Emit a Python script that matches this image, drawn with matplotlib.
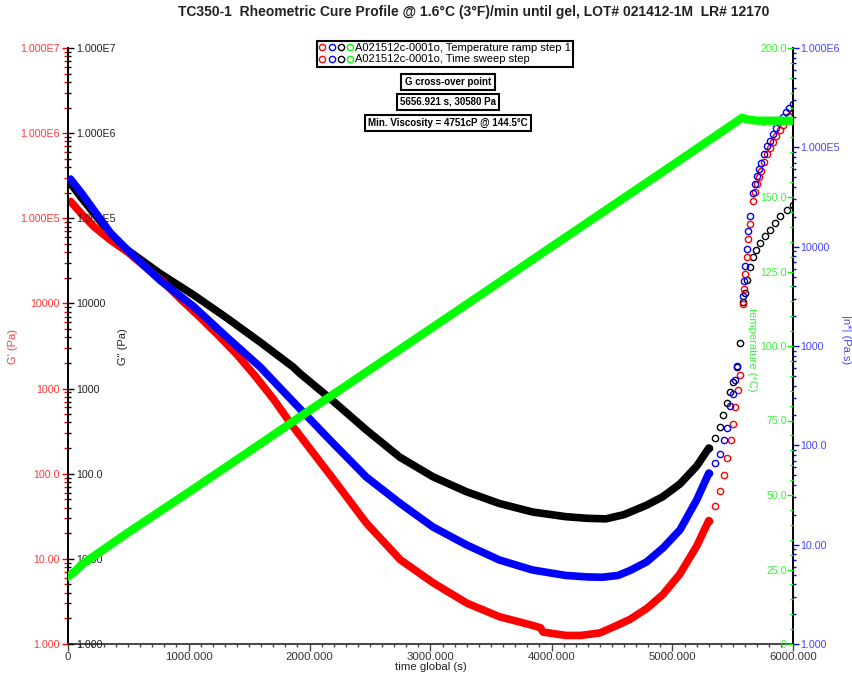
import matplotlib
matplotlib.use('Agg')
import matplotlib.pyplot as plt
from matplotlib.lines import Line2D
from matplotlib.legend_handler import HandlerTuple
from matplotlib.ticker import FixedLocator, LogLocator, MultipleLocator, NullFormatter

plt.rcParams['font.family'] = ['Liberation Sans', 'DejaVu Sans']

# ---- data (time in s) ----
# G' (Pa), before / after the gap at the step change
gp_t1 = [25, 110, 220, 350, 500, 650, 800, 950, 1100, 1250, 1400, 1550, 1700, 1850,
         2000, 2200, 2470, 2750, 3020, 3300, 3570, 3840, 3910, 3930, 4120, 4240, 4400,
         4510, 4650, 4790, 4920, 5060, 5200, 5300, 5350, 5396, 5426, 5454, 5480, 5500,
         5520, 5540, 5555]
gp_v1 = [158000, 115000, 79400, 56200, 39800, 26300, 17400, 10700, 6760, 4170, 2510,
         1410, 759, 380, 200, 85.1, 26.3, 9.77, 5.25, 3.02, 2.09, 1.66, 1.55, 1.38, 1.26,
         1.26, 1.35, 1.58, 1.95, 2.63, 3.80, 6.61, 14.1, 28.2, 41.7, 63.1, 95.5, 151, 251,
         380, 603, 955, 1450]
gp_t2 = [5583, 5591, 5600, 5612, 5624, 5641, 5665, 5682, 5698, 5715, 5731, 5756, 5781,
         5806, 5830, 5855, 5888, 5913, 5938, 5963, 5996]
gp_v2 = [9770, 14800, 22400, 35500, 57500, 85100, 158000, 204000, 251000, 309000,
         363000, 457000, 575000, 676000, 794000, 933000, 1100000, 1260000, 1410000,
         1580000, 1780000]

# G" (Pa)
gpp_t1 = [25, 110, 217, 354, 492, 766, 1041, 1316, 1591, 1865, 1920, 2195, 2470, 2745,
          3019, 3294, 3569, 3843, 4118, 4300, 4450, 4600, 4786, 4920, 5062, 5200, 5300,
          5350, 5392, 5420, 5448, 5475, 5500, 5533, 5558]
gpp_v1 = [257000, 178000, 115000, 66100, 42700, 22400, 12600, 6760, 3520, 1790, 1510,
          714, 326, 157, 92.3, 61.7, 44.7, 35.5, 31.3, 29.9, 29.5, 33.1, 42.7, 53.7, 75.9,
          123, 200, 263, 355, 490, 676, 912, 1200, 1780, 3470]
gpp_t2 = [5583, 5600, 5613, 5641, 5665, 5690, 5723, 5764, 5806, 5847, 5888, 5944, 5996]
gpp_v2 = [10500, 13200, 19100, 26900, 35500, 42700, 51300, 61700, 72400, 88100, 105000,
          126000, 145000]

# |n*| (Pa.s)
eta_t1 = [25, 115, 217, 354, 492, 766, 1041, 1316, 1591, 1865, 1920, 2195, 2470, 2745,
          3019, 3294, 3569, 3843, 4118, 4300, 4420, 4550, 4650, 4786, 4924, 5062, 5200,
          5300, 5350, 5396, 5426, 5454, 5479, 5496, 5515, 5535]
eta_v1 = [47900, 34700, 23400, 13800, 9330, 4570, 2510, 1230, 617, 275, 234, 105, 47.9,
          26.3, 15.1, 10.0, 7.01, 5.56, 4.90, 4.73, 4.70, 4.90, 5.50, 6.70, 9.33, 14.1,
          28.2, 52.5, 66.1, 81.3, 112, 151, 251, 331, 457, 631]
eta_t2 = [5583, 5591, 5600, 5612, 5624, 5641, 5665, 5682, 5698, 5715, 5731, 5756, 5781,
          5806, 5830, 5855, 5888, 5913, 5938, 5963, 5996]
eta_v2 = [3160, 4470, 6460, 9550, 14500, 20400, 34700, 42700, 51300, 60300, 69200,
          85100, 102000, 117000, 135000, 155000, 182000, 204000, 229000, 251000, 275000]

# temperature (C)
temp_t = [0, 60, 130, 500, 1000, 1500, 2000, 2500, 3000, 3500, 4000, 4500, 5000, 5500,
          5575, 5620, 5700, 6000]
temp_v = [22.5, 24.3, 27.0, 37.4, 50.9, 64.6, 78.4, 92.1, 105.8, 119.5, 133.3, 147.0,
          160.7, 174.5, 176.6, 176.0, 175.6, 175.6]

log_ticks = [1, 10, 100, 1000, 10000, 1e5, 1e6, 1e7]
log_labels = ['1.000', '10.00', '100.0', '1000', '10000', '1.000E5', '1.000E6', '1.000E7']
temp_ticks = [0, 25, 50, 75, 100, 125, 150, 175, 200]
temp_labels = ['0', '25.0', '50.0', '75.0', '100.0', '125.0', '150.0', '175.0', '200.0']
time_ticks = [0, 1000, 2000, 3000, 4000, 5000, 6000]
time_labels = ['0', '1000.000', '2000.000', '3000.000', '4000.000', '5000.000', '6000.000']

title = 'TC350-1  Rheometric Cure Profile @ 1.6\u00b0C (3\u00b0F)/min until gel, LOT# 021412-1M  LR# 12170'
run_names = ['A021512c-0001o, Temperature ramp step 1', 'A021512c-0001o, Time sweep step']
notes = ['G cross-over point', '5656.921 s, 30580 Pa', 'Min. Viscosity = 4751cP @ 144.5\u00b0C']

RED, BLUE, GREEN, BLACK = '#ff0000', '#0000ff', '#00ff00', '#000000'
RED_T, BLUE_T, GREEN_T = '#ff3b3b', '#4545ff', '#3cf03c'
W, H = 852, 677


def draw_series(axis, t1, v1, t2, v2, color, cut=5300):
    # dense part looks like a solid band, the steep ends show single circles
    n = len([t for t in t1 if t <= cut])
    axis.plot(t1[:n], v1[:n], '-', color=color, lw=5.5, solid_capstyle='round', solid_joinstyle='round')
    axis.plot(t1[n - 1:], v1[n - 1:], 'o', mfc='none', mec=color, ms=4.5, mew=1.0)
    axis.plot(t2, v2, 'o', mfc='none', mec=color, ms=4.5, mew=1.0)


def log_axis(axis, ylim):
    axis.set_yscale('log')
    axis.set_ylim(*ylim)
    ticks = [t for t in log_ticks if ylim[0] <= t <= ylim[1]]
    axis.yaxis.set_major_locator(FixedLocator(ticks))
    axis.set_yticklabels(log_labels[:len(ticks)])
    axis.yaxis.set_minor_locator(LogLocator(base=10, subs=range(2, 10), numticks=20))
    axis.yaxis.set_minor_formatter(NullFormatter())


fig = plt.figure(figsize=(W / 100, H / 100), dpi=100)
ax = fig.add_axes([67.5 / W, 33 / H, 726 / W, 596 / H])

# G' axis (left, red, outside)
ax.set_xlim(0, 6000)
log_axis(ax, (1, 1e7))
ax.tick_params(axis='y', which='both', direction='out', colors=RED, labelcolor=RED_T,
               labelsize=7.7, pad=1)
ax.tick_params(axis='y', which='major', length=4.5, width=1)
ax.tick_params(axis='y', which='minor', length=3, width=1)
for s in ['top', 'right']:
    ax.spines[s].set_visible(False)
ax.spines['left'].set_linewidth(1.4)
ax.spines['bottom'].set_linewidth(1.4)
ax.spines['bottom'].set_color('#444444')

ax.set_xticks(time_ticks)
ax.set_xticklabels(time_labels, fontsize=8.2)
ax.xaxis.set_minor_locator(MultipleLocator(100))
ax.tick_params(axis='x', which='major', direction='out', length=5, width=1, colors='#444444',
               labelcolor='#333333', pad=1)
ax.tick_params(axis='x', which='minor', direction='out', length=2.5, width=1, colors='#444444')
ax.set_xlabel('time global (s)', fontsize=8.2, labelpad=0, color='#222222')

# G" axis (left spine, black, labels inside)
ax_g2 = ax.twinx()
log_axis(ax_g2, (1, 1e7))
ax_g2.yaxis.tick_left()
ax_g2.tick_params(axis='y', which='both', direction='in', colors=BLACK, labelsize=7.7, pad=-6.2)
ax_g2.tick_params(axis='y', which='major', length=4, width=1)
ax_g2.tick_params(axis='y', which='minor', length=2.5, width=1)
plt.setp(ax_g2.get_yticklabels(), ha='left', color='#222222')
for s in ax_g2.spines.values():
    s.set_visible(False)

# |n*| axis (right, blue, outside)
ax_eta = ax.twinx()
log_axis(ax_eta, (1, 1e6))
ax_eta.tick_params(axis='y', which='both', direction='out', colors=BLUE, labelcolor=BLUE_T,
                   labelsize=7.7, pad=1)
ax_eta.tick_params(axis='y', which='major', length=4, width=1)
ax_eta.tick_params(axis='y', which='minor', length=2.5, width=1)
for s in ['top', 'left', 'bottom']:
    ax_eta.spines[s].set_visible(False)
ax_eta.spines['right'].set_linewidth(1.4)

# temperature axis (right spine, green, labels inside)
ax_t = ax.twinx()
ax_t.set_ylim(0, 200)
ax_t.set_yticks(temp_ticks)
ax_t.set_yticklabels(temp_labels)
ax_t.yaxis.set_minor_locator(MultipleLocator(5))
ax_t.tick_params(axis='y', which='both', direction='in', colors=GREEN, labelcolor=GREEN_T,
                 labelsize=7.7, pad=-4.8)
ax_t.tick_params(axis='y', which='major', length=4, width=1)
ax_t.tick_params(axis='y', which='minor', length=2.5, width=1)
plt.setp(ax_t.get_yticklabels(), ha='right')
for s in ax_t.spines.values():
    s.set_visible(False)

# data
draw_series(ax, gpp_t1, gpp_v1, gpp_t2, gpp_v2, BLACK)
draw_series(ax, gp_t1, gp_v1, gp_t2, gp_v2, RED)
draw_series(ax_eta, eta_t1, eta_v1, eta_t2, eta_v2, BLUE)
ax_t.plot(temp_t, temp_v, '-', color=GREEN, lw=6, solid_capstyle='round', solid_joinstyle='round')

# axis titles
fig.text(13 / W, 1 - 347 / H, "G' (Pa)", rotation=90, color=RED_T, fontsize=8, ha='center', va='center')
fig.text(123 / W, 1 - 347 / H, 'G" (Pa)', rotation=90, color='#222222', fontsize=8, ha='center', va='center')
fig.text(752 / W, 1 - 350 / H, 'temperature (\u00b0C)', rotation=-90, color=GREEN_T, fontsize=8,
         ha='center', va='center')
fig.text(846 / W, 1 - 340 / H, '|n*| (Pa.s)', rotation=-90, color=BLUE_T, fontsize=8,
         ha='center', va='center')

fig.text(474 / W, 1 - 12 / H, title, fontweight='bold', fontsize=10,
         ha='center', va='center', color='#222222')

# legend
handles = []
for _ in run_names:
    handles.append(tuple(Line2D([], [], ls='', marker='o', mfc='none', mec=c, ms=4.5, mew=1.0)
                         for c in [RED, BLUE, BLACK, GREEN]))
leg = ax_t.legend(handles, run_names, loc='upper center', bbox_to_anchor=(445 / W, 1 - 35 / H),
                  bbox_transform=fig.transFigure, handler_map={tuple: HandlerTuple(ndivide=None, pad=0.4)},
                  handlelength=3.0, handletextpad=0.15, fontsize=8, borderpad=0.25, labelspacing=0.1,
                  fancybox=False, framealpha=1, edgecolor='black')
leg.get_frame().set_linewidth(1.5)

box = dict(boxstyle='square,pad=0.35', fc='white', ec='black', lw=1.5)
for y, txt in zip([82, 102, 123], notes):
    fig.text(448 / W, 1 - y / H, txt, fontsize=7, fontweight='bold', ha='center', va='center', bbox=box)

fig.savefig('out.png', dpi=100)
